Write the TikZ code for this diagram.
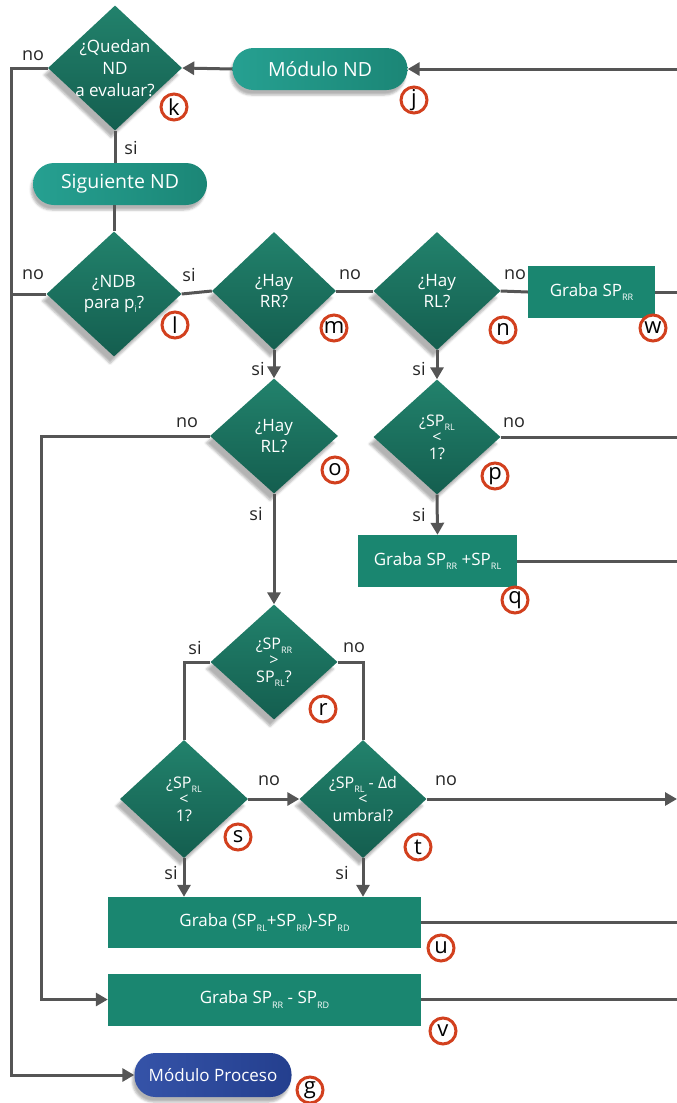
\documentclass[tikz,border=0pt]{standalone}
\usepackage{fontspec}
\setmainfont{Open Sans}
\usetikzlibrary{shapes.geometric,arrows.meta,shadows.blur}
\definecolor{caja}{HTML}{1A8670}
\definecolor{rombo}{HTML}{22826C}
\definecolor{romboosc}{HTML}{145E4F}
\definecolor{pildora}{HTML}{26A091}
\definecolor{pildoraosc}{HTML}{1B8676}
\definecolor{azul}{HTML}{3553A8}
\definecolor{azulosc}{HTML}{243F8E}
\definecolor{linea}{HTML}{555555}
\definecolor{rojo}{HTML}{D2401E}
\newcommand{\sbi}[1]{\raisebox{-0.5ex}{\fontsize{9}{9}\selectfont #1}}
\newcommand{\fs}[2]{\fontsize{#1}{#2}\selectfont}

\begin{document}
\begin{tikzpicture}[x=1pt,y=-1pt,
  rombo/.style={diamond, top color=rombo, bottom color=romboosc, text=white, align=center,
    inner sep=-40pt, minimum width=127pt, minimum height=117pt, font=\fs{17}{21},
    blur shadow={shadow xshift=-4pt, shadow yshift=-7pt, shadow opacity=30}},
  rombosp/.style={rombo, font=\fs{16}{16.5}},
  pil/.style={rectangle, rounded corners=21pt, minimum width=175pt, minimum height=42pt,
    left color=pildora, right color=pildoraosc, text=white, font=\fs{19.5}{20},
    blur shadow={shadow xshift=-2pt, shadow yshift=-5pt, shadow opacity=30}},
  caja/.style={rectangle, fill=caja, text=white, font=\fs{17}{18}, minimum height=52pt},
  etq/.style={font=\fs{18}{18}, text=black!85},
  marca/.style={circle, draw=rojo, line width=3pt, fill=white, minimum size=26pt,
    inner sep=0pt, font=\fs{22}{22}},
  con/.style={draw=linea, line width=3pt},
  flecha/.style={con, -{Triangle[length=12pt,width=13pt]}}]
\useasboundingbox (0,0) rectangle (677,1103);

\coordinate (izq) at (11,0);
\coordinate (izq2) at (41,0);
\coordinate (der) at (677,0);

\node[pil] (j) at (320,69) {Módulo ND};
\node[rombo, minimum width=134pt, minimum height=125pt, font=\fs{17}{22}] (k) at (115,68) {¿Quedan\\ND\\a evaluar?};
\node[pil, minimum width=174pt] (sig) at (120,184) {Siguiente ND};
\node[rombo, minimum width=135pt, minimum height=125pt] (l) at (114,294) {¿NDB\\para p\sbi{i}?};
\node[rombo, minimum width=124pt, minimum height=118pt] (m) at (274,291) {¿Hay\\RR?};
\node[rombo, minimum height=118pt] (n) at (437,291) {¿Hay\\RL?};
\node[caja, minimum width=127pt] (w) at (591.5,292) {Graba SP\sbi{RR}};
\node[rombo, minimum width=128pt, minimum height=115pt] (o) at (274,436) {¿Hay\\RL?};
\node[rombosp, minimum height=115pt] (p) at (437,437) {¿SP\sbi{RL}\\<\\1?};
\node[caja, minimum width=159pt] (q) at (437.5,561) {Graba SP\sbi{RR} +SP\sbi{RL}};
\node[rombosp, minimum height=115pt] (r) at (274,662) {¿SP\sbi{RR}\\>\\SP\sbi{RL}?};
\node[rombosp, minimum width=128pt, minimum height=118pt] (s) at (184,799) {¿SP\sbi{RL}\\<\\1?};
\node[rombosp, minimum height=118pt] (t) at (363,799) {¿SP\sbi{RL} - Δd\\<\\umbral?};
\node[caja, minimum width=313pt, minimum height=51pt] (u) at (264.5,922.5) {Graba (SP\sbi{RL}+SP\sbi{RR})-SP\sbi{RD}};
\node[caja, minimum width=313pt] (v) at (264.5,999.5) {Graba SP\sbi{RR} - SP\sbi{RD}};
\node[pil, left color=azul, right color=azulosc, minimum width=157pt, minimum height=44pt, font=\fs{17}{18}] (g) at (213,1075) {Módulo Proceso};

\node[marca] (mk) at (174,107) {k};
\node[marca] (mj) at (414,100) {j};
\node[marca] (ml) at (175,325) {l};
\node[marca] (mm) at (334,328) {m};
\node[marca] (mn) at (503,330) {n};
\node[marca] (mw) at (653,328) {w};
\node[marca] (mo) at (335,470) {o};
\node[marca] (mp) at (495,476) {p};
\node[marca] (mq) at (515,600) {q};
\node[marca] (mr) at (323,709) {r};
\node[marca] (ms) at (238,837) {s};
\node[marca] (mt) at (418,847) {t};
\node[marca] (mu) at (441,948) {u};
\node[marca] (mv) at (443,1031) {v};
\node[marca] (mg) at (310,1090) {g};

\node[etq] (nk) at (33,56) {no};
\node[etq] (sk) at (131,148) {si};
\node[etq] (nl) at (33,275) {no};
\node[etq] (sl) at (189,275) {si};
\node[etq] (nm) at (350,275) {no};
\node[etq] (nn) at (515,275) {no};
\node[etq] (sm) at (258,369) {si};
\node[etq] (sn) at (419,369) {si};
\node[etq] (no) at (187,423) {no};
\node[etq] (np) at (514,423) {no};
\node[etq] (so) at (256,514) {si};
\node[etq] (sp) at (419,515) {si};
\node[etq] (sr) at (195,648) {si};
\node[etq] (nr) at (354,648) {no};
\node[etq] (ns) at (269,781) {no};
\node[etq] (nt) at (446,781) {no};
\node[etq] (ss) at (171,873) {si};
\node[etq] (st) at (342,873) {si};

\draw[flecha] (j.east -| der) -- (j.east);
\draw[flecha] (j.west) -- (k.east);
\draw[flecha] (k.west) -- (k.west -| izq) |- (g.west);
\draw[con] (k.south) -- (k.south |- sig.north);
\draw[con] (l.north |- sig.south) -- (l.north);
\draw[con] (l.west) -- (l.west -| izq);
\draw[con] (l.east) -- (m.west);
\draw[con] (m.east) -- (n.west);
\draw[con] (n.east) -- (w.west);
\draw[con] (w.east) -- (w.east -| der);
\draw[flecha] (m.south) -- (o.north);
\draw[flecha] (n.south) -- (p.north);
\draw[flecha] (o.west) -- (o.west -| izq2) |- (v.west);
\draw[flecha] (o.south) -- (r.north);
\draw[con] (p.east) -- (p.east -| der);
\draw[flecha] (p.south) -- (q.north);
\draw[con] (q.east) -- (q.east -| der);
\draw[con] (r.west) -| (s.north);
\draw[con] (r.east) -| (t.north);
\draw[flecha] (s.east) -- (t.west);
\draw[flecha] (t.east) -- (t.east -| der);
\draw[flecha] (s.south) -- (s.south |- u.north);
\draw[flecha] (t.south) -- (t.south |- u.north);
\draw[con] (u.east) -- (u.east -| der);
\draw[con] (v.east) -- (v.east -| der);
\end{tikzpicture}
\end{document}
